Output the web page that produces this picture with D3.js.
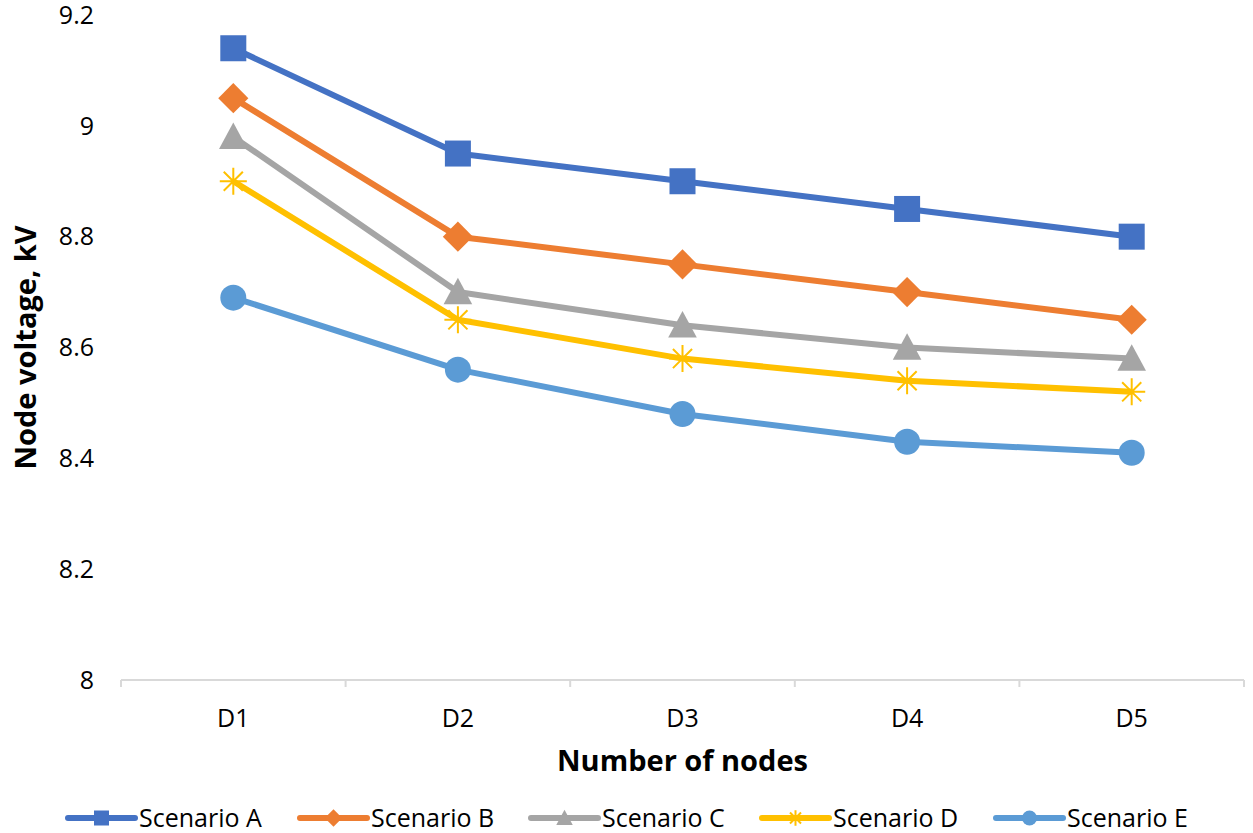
<!DOCTYPE html>
<html>
<head>
<meta charset="utf-8">
<script src="https://d3js.org/d3.v7.min.js"></script>
<style>
  body { margin: 0; background: #fff; }
  text { font-family: "Open Sans", "Noto Sans", sans-serif; }
</style>
</head>
<body>
<script>
var categories = ["D1", "D2", "D3", "D4", "D5"];
var seriesNames = ["Scenario A", "Scenario B", "Scenario C", "Scenario D", "Scenario E"];
var scenarioA = [9.14, 8.95, 8.90, 8.85, 8.80];
var scenarioB = [9.05, 8.80, 8.75, 8.70, 8.65];
var scenarioC = [8.98, 8.70, 8.64, 8.60, 8.58];
var scenarioD = [8.90, 8.65, 8.58, 8.54, 8.52];
var scenarioE = [8.69, 8.56, 8.48, 8.43, 8.41];
var yTicks = [8, 8.2, 8.4, 8.6, 8.8, 9, 9.2];

var colors = ["#4472C4", "#ED7D31", "#A5A5A5", "#FFC000", "#5B9BD5"];
var markers = ["square", "diamond", "triangle", "star", "circle"];
var values = [scenarioA, scenarioB, scenarioC, scenarioD, scenarioE];

var width = 1253, height = 833;
var plot = {left: 121, right: 1244, top: 15, bottom: 680};

var svg = d3.select("body").append("svg")
    .attr("width", width)
    .attr("height", height);

var xScale = d3.scaleBand().domain(categories).range([plot.left, plot.right]);
var yScale = d3.scaleLinear().domain([8, 9.2]).range([plot.bottom, plot.top]);

// y tick labels (no axis line)
svg.append("g").selectAll("text")
    .data(yTicks)
    .enter().append("text")
    .attr("x", 94)
    .attr("y", function (d) { return yScale(d); })
    .attr("dy", "0.35em")
    .attr("text-anchor", "end")
    .attr("font-size", 25)
    .attr("fill", "#000")
    .text(function (d) { return d; });

// x axis
var xAxis = svg.append("g").attr("transform", "translate(0," + plot.bottom + ")");
xAxis.append("line")
    .attr("x1", plot.left).attr("x2", plot.right)
    .attr("stroke", "#d9d9d9").attr("stroke-width", 2);
var bounds = categories.map(function (c) { return xScale(c); }).concat([plot.right]);
xAxis.selectAll(".tick")
    .data(bounds)
    .enter().append("line")
    .attr("x1", function (d) { return d; }).attr("x2", function (d) { return d; })
    .attr("y1", 0).attr("y2", 7)
    .attr("stroke", "#d9d9d9").attr("stroke-width", 2);
xAxis.selectAll(".lab")
    .data(categories)
    .enter().append("text")
    .attr("x", function (d) { return xScale(d) + xScale.bandwidth() / 2; })
    .attr("y", 47)
    .attr("text-anchor", "middle")
    .attr("font-size", 25)
    .attr("fill", "#000")
    .text(function (d) { return d; });

// axis titles
svg.append("text")
    .attr("x", (plot.left + plot.right) / 2)
    .attr("y", 771)
    .attr("text-anchor", "middle")
    .attr("font-size", 29)
    .attr("font-weight", "bold")
    .text("Number of nodes");

svg.append("text")
    .attr("transform", "translate(36," + ((plot.top + plot.bottom) / 2) + ") rotate(-90)")
    .attr("text-anchor", "middle")
    .attr("font-size", 29)
    .attr("font-weight", "bold")
    .text("Node voltage, kV");

// marker drawing
function drawMarker(g, type, color, size) {
    var s = size;
    if (type === "square") {
        g.append("rect").attr("x", -s / 2).attr("y", -s / 2).attr("width", s).attr("height", s).attr("fill", color);
    } else if (type === "diamond") {
        var h = s * 0.58;
        g.append("path").attr("d", "M0," + (-h) + "L" + h + ",0L0," + h + "L" + (-h) + ",0Z").attr("fill", color);
    } else if (type === "triangle") {
        var t = s * 0.55;
        g.append("path").attr("d", "M0," + (-t) + "L" + t + "," + (t * 0.85) + "L" + (-t) + "," + (t * 0.85) + "Z").attr("fill", color);
    } else if (type === "star") {
        var r = s * 0.52;
        var d = "";
        [0, 45, 90, 135].forEach(function (a) {
            var rad = a * Math.PI / 180;
            d += "M" + (-r * Math.cos(rad)) + "," + (-r * Math.sin(rad)) + "L" + (r * Math.cos(rad)) + "," + (r * Math.sin(rad));
        });
        g.append("path").attr("d", d).attr("stroke", color).attr("stroke-width", 2).attr("fill", "none");
    } else {
        g.append("circle").attr("r", s / 2).attr("fill", color);
    }
}

var line = d3.line()
    .x(function (d, i) { return xScale(categories[i]) + xScale.bandwidth() / 2; })
    .y(function (d) { return yScale(d); });

values.forEach(function (vals, k) {
    var g = svg.append("g").attr("class", "series");
    g.append("path")
        .datum(vals)
        .attr("d", line)
        .attr("fill", "none")
        .attr("stroke", colors[k])
        .attr("stroke-width", 6)
        .attr("stroke-linejoin", "round");
    vals.forEach(function (v, i) {
        var m = g.append("g").attr("transform", "translate(" + (xScale(categories[i]) + xScale.bandwidth() / 2) + "," + yScale(v) + ")");
        drawMarker(m, markers[k], colors[k], 26);
    });
});

// legend
var legendX = [68, 300, 531, 762, 996];
var legend = svg.append("g").attr("transform", "translate(0,818)");
seriesNames.forEach(function (name, k) {
    var lg = legend.append("g").attr("transform", "translate(" + legendX[k] + ",0)");
    lg.append("line").attr("x1", 0).attr("x2", 67)
        .attr("stroke", colors[k]).attr("stroke-width", 6).attr("stroke-linecap", "round");
    var m = lg.append("g").attr("transform", "translate(33.5,0)");
    drawMarker(m, markers[k], colors[k], 15);
    lg.append("text").attr("x", 71).attr("dy", "0.35em")
        .attr("font-size", 25).attr("fill", "#000").text(name);
});
</script>
</body>
</html>
